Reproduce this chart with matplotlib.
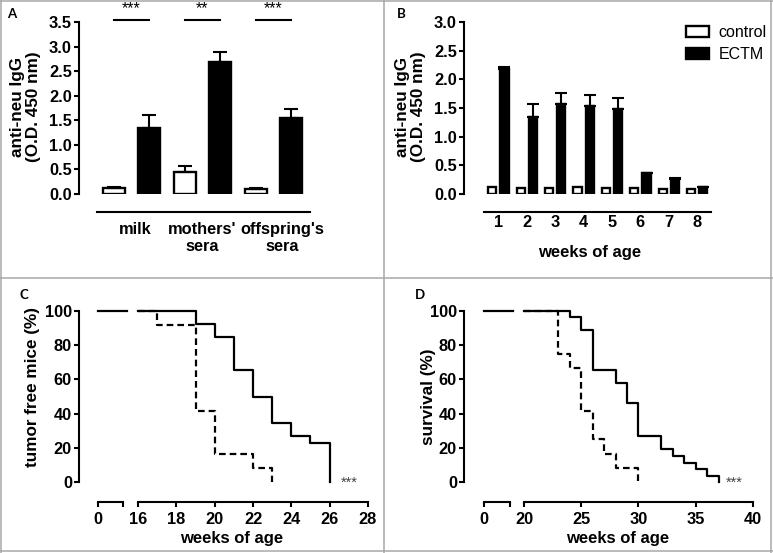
import matplotlib
matplotlib.use('Agg')
import matplotlib.pyplot as plt
import numpy as np
from matplotlib.lines import Line2D

W, H = 773, 553

# panel A: anti-neu IgG in milk and sera
a_groups = ['milk', "mothers'\nsera", "offspring's\nsera"]
a_label_shift = [0.1, 0.0, 0.25]
a_control = [0.12, 0.44, 0.11]
a_control_err = [0.03, 0.13, 0.02]
a_ectm = [1.35, 2.69, 1.55]
a_ectm_err = [0.25, 0.20, 0.18]
a_stars = ['***', '**', '***']

# panel B: anti-neu IgG over weeks of age
b_weeks = [1, 2, 3, 4, 5, 6, 7, 8]
b_control = [0.12, 0.10, 0.11, 0.12, 0.10, 0.10, 0.09, 0.08]
b_control_err = [0.01, 0.01, 0.01, 0.01, 0.01, 0.01, 0.01, 0.01]
b_ectm = [2.18, 1.34, 1.57, 1.54, 1.48, 0.36, 0.27, 0.12]
b_ectm_err = [0.03, 0.23, 0.20, 0.19, 0.19, 0.01, 0.01, 0.01]

# panel C: tumor free mice (%)
c_ctrl_t = [16, 19, 20, 21, 22, 23, 24, 25, 26]
c_ctrl_v = [100, 92.3, 84.6, 65.4, 50.0, 34.6, 26.9, 23.1, 0]
c_ectm_t = [16, 17, 19, 20, 22, 23]
c_ectm_v = [100, 91.7, 41.7, 16.7, 8.3, 0]

# panel D: survival (%)
d_ctrl_t = [20, 24, 25, 26, 28, 29, 30, 32, 33, 34, 35, 36, 37]
d_ctrl_v = [100, 96.2, 88.5, 65.4, 57.7, 46.2, 26.9, 19.2, 15.4, 11.5, 7.7, 3.8, 0]
d_ectm_t = [20, 23, 24, 25, 26, 27, 28, 30]
d_ectm_v = [100, 75.0, 66.7, 41.7, 25.0, 16.7, 8.3, 0]

plt.rcParams['font.family'] = ['Liberation Sans', 'DejaVu Sans']
plt.rcParams['font.weight'] = 'bold'
plt.rcParams['font.size'] = 11.8
plt.rcParams['axes.linewidth'] = 1.5
plt.rcParams['xtick.major.width'] = 1.5
plt.rcParams['ytick.major.width'] = 1.5
plt.rcParams['xtick.major.size'] = 3.6
plt.rcParams['ytick.major.size'] = 3.6

fig = plt.figure(figsize=(W / 100, H / 100), dpi=100)


def px_axes(x0, x1, y_top, y_bot):
    return fig.add_axes([x0 / W, 1 - y_bot / H, (x1 - x0) / W, (y_bot - y_top) / H])


def fig_text(x, y, s, **kw):
    fig.text(x / W, 1 - y / H, s, **kw)


def clean(ax):
    ax.spines['top'].set_visible(False)
    ax.spines['right'].set_visible(False)
    ax.patch.set_alpha(0)


# frame lines between panels
frame = dict(color='#a8a8a8', lw=1.1, transform=fig.transFigure)
for xs, ys in [([1, 1], [0, H]), ([771, 771], [0, H]), ([0, W], [1, 1]), ([0, W], [551, 551]),
               ([384, 384], [0, H]), ([0, W], [278, 278])]:
    fig.add_artist(Line2D([x / W for x in xs], [1 - y / H for y in ys], **frame))

bar_kw = dict(edgecolor='black', linewidth=1.7)
err_kw = dict(elinewidth=1.5, capthick=1.5)

# ---- A
ax = px_axes(79, 312, 22, 194)
clean(ax)
pos_c = np.arange(len(a_groups)) * 2
pos_e = pos_c + 1
ax.bar(pos_c, a_control, 0.62, color='white', yerr=[np.zeros(3), a_control_err],
       capsize=5, error_kw=err_kw, **bar_kw)
ax.bar(pos_e, a_ectm, 0.62, color='black', yerr=[np.zeros(3), a_ectm_err],
       capsize=5, error_kw=err_kw, **bar_kw)
ax.set_xlim(-0.972, 5.59)
ax.set_ylim(0, 3.5)
ax.set_yticks(np.arange(0, 3.51, 0.5))
ax.set_yticklabels([f'{v:.1f}' for v in np.arange(0, 3.51, 0.5)])
ax.spines['left'].set_bounds(0, 3.5)
ax.spines['bottom'].set_position(('outward', 13))
ax.spines['bottom'].set_bounds(-0.46, 5.53)
ax.set_xticks(pos_c + 0.5 + np.array(a_label_shift))
ax.set_xticklabels(a_groups, ha='center', multialignment='center')
ax.tick_params(axis='x', length=0, pad=7)
ax.tick_params(axis='y', pad=1.5)
for c, e, s in zip(pos_c, pos_e, a_stars):
    ax.plot([c, e], [3.54, 3.54], color='black', lw=1.5, clip_on=False)
    ax.text((c + e) / 2, 3.62, s, ha='center', va='bottom', fontsize=11.5, fontweight='normal')
fig_text(25.5, 107, 'anti-neu IgG\n(O.D. 450 nm)', rotation=90, ha='center', va='center',
         multialignment='center', linespacing=1.05, fontsize=12.3)

# ---- B
ax = px_axes(464, 712, 22, 194)
clean(ax)
wk = np.array(b_weeks)
hc = ax.bar(wk - 0.215, b_control, 0.29, color='white', yerr=[np.zeros(8), b_control_err],
            capsize=0, error_kw=err_kw, **bar_kw)
he = ax.bar(wk + 0.215, b_ectm, 0.29, color='black', yerr=[np.zeros(8), b_ectm_err],
            capsize=4, error_kw=err_kw, **bar_kw)
ax.set_xlim(-0.21, 8.52)
ax.set_ylim(0, 3.0)
ax.set_yticks(np.arange(0, 3.01, 0.5))
ax.set_yticklabels([f'{v:.1f}' for v in np.arange(0, 3.01, 0.5)])
ax.spines['left'].set_bounds(0, 3.0)
ax.spines['bottom'].set_position(('outward', 13))
ax.spines['bottom'].set_bounds(0.5, 8.5)
ax.set_xticks(wk)
ax.tick_params(axis='x', length=0, pad=2)
ax.tick_params(axis='y', pad=1.5)
ax.legend([hc, he], ['control', 'ECTM'], loc='upper left', bbox_to_anchor=(686 / W, 1 - 25 / H),
          bbox_transform=fig.transFigure, frameon=False, borderpad=0, borderaxespad=0,
          handlelength=1.45, handleheight=0.65, handletextpad=0.6, labelspacing=0.45,
          prop={'weight': 'normal', 'size': 11.5})
fig_text(410.5, 107, 'anti-neu IgG\n(O.D. 450 nm)', rotation=90, ha='center', va='center',
         multialignment='center', linespacing=1.05, fontsize=12.3)
fig_text(590, 253, 'weeks of age', ha='center', va='center', fontsize=12)


# ---- C and D (broken x axis)
def km_panel(x_axis, y_px, left_px, break_end, right_px, r_lim, r_ticks, ctrl, ectm, star_x, ylabel,
             ylabel_pos, xlabel_pos):
    axl = px_axes(x_axis, left_px, y_px[0], y_px[1])
    axr = px_axes(right_px[0], right_px[1], y_px[0], y_px[1])
    for a in (axl, axr):
        clean(a)
        a.set_ylim(0, 100)
        a.spines['bottom'].set_position(('outward', 14.4))
    axl.set_xlim(-1, 1.5)
    axl.spines['left'].set_bounds(0, 100)
    axl.set_yticks([0, 20, 40, 60, 80, 100])
    axl.tick_params(axis='y', pad=1.5)
    axl.spines['bottom'].set_bounds(0, break_end)
    axl.set_xticks([0, break_end])
    axl.set_xticklabels(['0', ''])
    axl.plot([0, 1.5], [100, 100], color='black', lw=1.6, clip_on=False)

    axr.spines['left'].set_visible(False)
    axr.set_yticks([])
    axr.set_xlim(*r_lim)
    axr.spines['bottom'].set_bounds(r_ticks[0], r_ticks[-1])
    axr.set_xticks(r_ticks)
    axr.step(ctrl[0], ctrl[1], where='post', color='black', lw=1.6, clip_on=False)
    axr.step(ectm[0], ectm[1], where='post', color='black', lw=1.6, linestyle=(0, (3, 1.8)),
             clip_on=False)
    axr.text(star_x, 0, '***', ha='center', va='center', fontsize=10.5, fontweight='normal',
             color='#444444')
    for a in (axl, axr):
        a.tick_params(axis='x', pad=3.5)
    fig_text(ylabel_pos[0], ylabel_pos[1], ylabel, rotation=90, ha='center', va='center',
             fontsize=12.3)
    fig_text(xlabel_pos[0], xlabel_pos[1], 'weeks of age', ha='center', va='center', fontsize=12)


km_panel(79, (310.7, 482.3), 126.8, 1.3, (130, 372), (16 - 8 / 19.1, 28 + 4 / 19.1),
         list(range(16, 29, 2)), (c_ctrl_t, c_ctrl_v), (c_ectm_t, c_ectm_v), 27.0,
         'tumor free mice (%)', (33, 387), (232, 538))
km_panel(464, (310.7, 482.3), 513, 1.35, (515, 757), (20 - 9 / 11.46, 40 + 4 / 11.46),
         list(range(20, 41, 5)), (d_ctrl_t, d_ctrl_v), (d_ectm_t, d_ectm_v), 38.4,
         'survival (%)', (428, 397), (618, 538))

# panel letters
for x, y, s in [(12, 14, 'A'), (401, 14, 'B'), (24, 295, 'C'), (420, 295, 'D')]:
    fig.text(x / W, 1 - y / H, s, ha='center', va='center', fontsize=9.5,
             family=['Lato', 'DejaVu Sans'], fontweight='bold')

fig.savefig('out.png', dpi=100)
